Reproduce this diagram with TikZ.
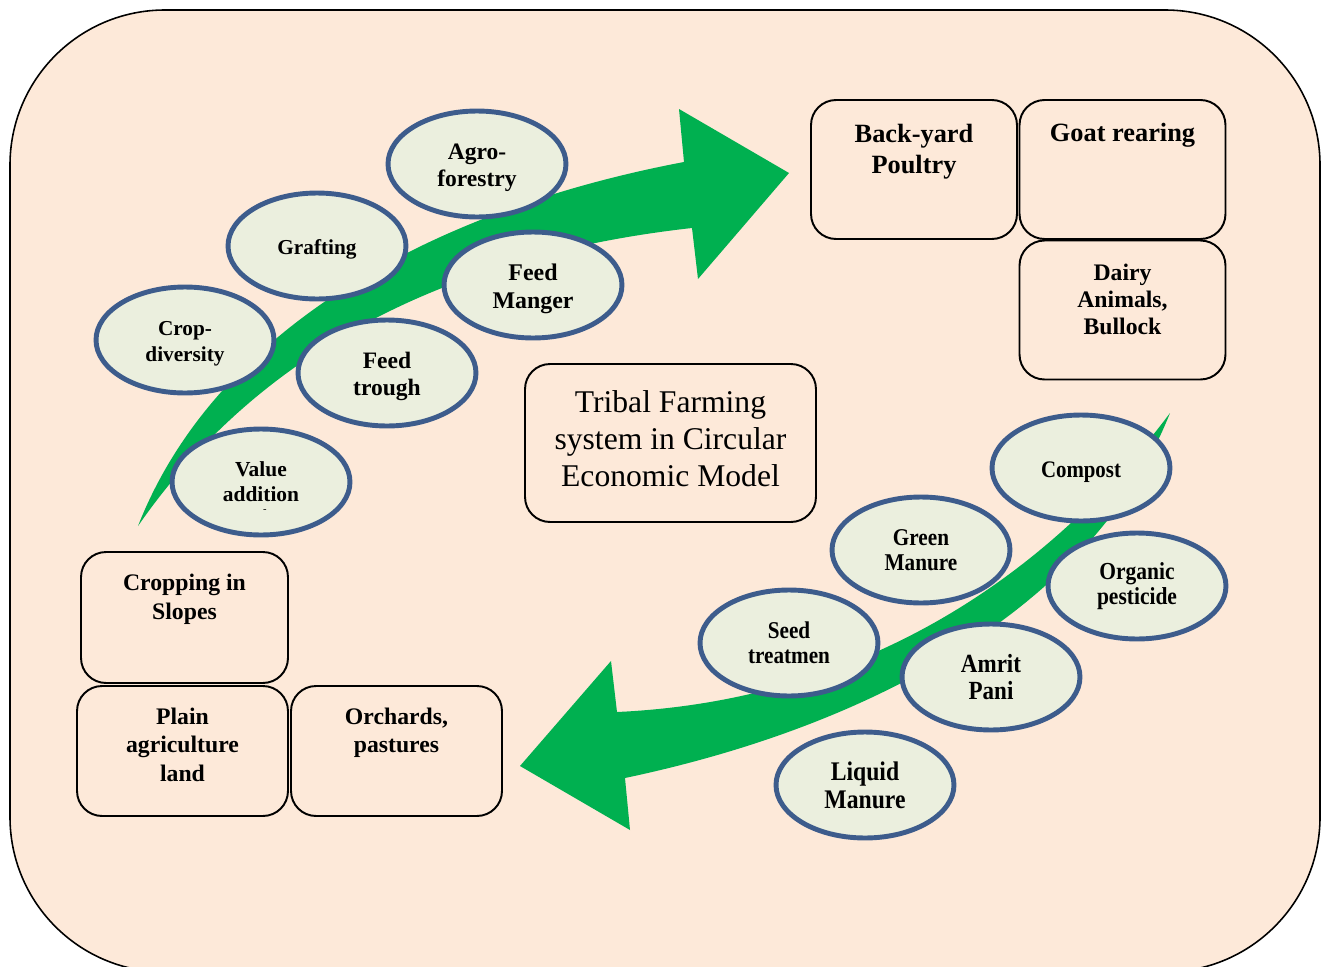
\documentclass[tikz,border=0pt]{standalone}
\usepackage{fontspec}
\setmainfont{Liberation Serif}
\newfontfamily\slimserif[FakeStretch=0.88]{Liberation Serif}
\usetikzlibrary{shapes.geometric}

\definecolor{pagefill}{HTML}{FDE9D9}
\definecolor{bubblefill}{HTML}{EBEFDE}
\definecolor{bubbleedge}{HTML}{3D5C8C}
\definecolor{arrowgreen}{HTML}{00B050}

\newcommand{\txtsize}[2]{\fontsize{#1}{#2}\selectfont}
\newcommand{\lift}{\rule{0pt}{1em}}
% text set at the top of a box: width, height, first baseline, text
\newcommand{\toptext}[4]{\parbox[c][#2][t]{#1}{\centering\rule{0pt}{#3}#4}}

\begin{document}
\begin{tikzpicture}[x=0.02cm, y=-0.02cm,
    bubble/.style={ellipse, draw=bubbleedge, line width=2.8pt, fill=bubblefill,
        minimum width=3.56cm, minimum height=2.12cm, inner sep=0pt, align=center},
    tile/.style={draw, line width=1.1pt, fill=pagefill, rounded corners=0.5cm,
        inner sep=0pt, font=\bfseries}]
    \clip (0,0) rectangle (1323,967);

    % Draw the frame
    \fill[white] (0,0) rectangle (1323,967);
    \draw[line width=0.9pt, fill=pagefill, rounded corners=3.1cm] (10,10) rectangle (1320,972);

    % Animal boxes
    \node[tile] (poultry) at (914,169.5) {\toptext{4.12cm}{2.78cm}{0.84cm}{\txtsize{15}{18}Back-yard\\Poultry}};
    \node[tile] (goat) at (1122.5,169.5) {\toptext{4.12cm}{2.78cm}{0.82cm}{\txtsize{15}{18}Goat rearing}};
    \node[tile] (dairy) at (1122.5,310) {\toptext{4.12cm}{2.78cm}{0.8cm}{\txtsize{13.5}{15.4}Dairy\\Animals,\\Bullock}};

    % Land boxes
    \node[tile] (slopes) at (184.5,617.5) {\toptext{4.14cm}{2.62cm}{0.77cm}{\txtsize{13.5}{16.4}Cropping in\\Slopes}};
    \node[tile] (plain) at (182.5,751) {\toptext{4.22cm}{2.6cm}{0.77cm}{\txtsize{13.5}{16.2}Plain\\agriculture\\land}};
    \node[tile] (orchards) at (396.5,751) {\toptext{4.22cm}{2.6cm}{0.77cm}{\txtsize{13.5}{16.2}Orchards,\\pastures}};

    % Title box
    \node[draw, line width=1.1pt, rounded corners=0.5cm, minimum width=5.82cm, minimum height=3.16cm,
        align=center, font=\txtsize{18}{21}] (title) at (670.5,443)
        {Tribal Farming\\system in Circular\\Economic Model\rule[-5pt]{0pt}{0pt}};

    % Green arrows
    \fill[arrowgreen] (138,526) .. controls (215,330) and (430,210) .. (684,162)
        -- (679,109) -- (789,173) -- (698,279) -- (692,228)
        .. controls (450,255) and (260,350) .. (138,526) -- cycle;
    \fill[arrowgreen] (1170,413) .. controls (1060,560) and (880,700) .. (617,712)
        -- (611,661) -- (520,766) -- (630,830) -- (625,778)
        .. controls (900,720) and (1100,590) .. (1170,413) -- cycle;

    % Crop side bubbles
    \node[bubble, font=\bfseries\txtsize{13.4}{15.4}] (agro) at (477,164) {\lift Agro-\\forestry};
    \node[bubble, font=\bfseries\txtsize{12.1}{14.8}] (graft) at (317,246) {\lift Grafting};
    \node[bubble, font=\bfseries\txtsize{12.1}{14.8}] (cropdiv) at (185,340) {\lift Crop-\\diversity};
    \node[bubble, font=\bfseries\txtsize{13.4}{15.6}] (trough) at (387,373) {\lift Feed\\trough};
    \node[bubble, font=\bfseries\txtsize{13.6}{15.8}] (manger) at (533,285) {\lift Feed\\Manger};
    \node[bubble, font=\bfseries\txtsize{12.2}{14.2}] (value) at (261,482) {Value\\addition};
    \node[font=\txtsize{6}{6}, inner sep=0pt] (valuedash) at (265,511) {-};

    % Manure side bubbles
    \node[bubble, font=\slimserif\bfseries\txtsize{13.5}{14.2}] (compost) at (1081,468) {\lift Compost};
    \node[bubble, font=\slimserif\bfseries\txtsize{13.7}{14.2}] (greenman) at (921,550) {Green\\Manure};
    \node[bubble, font=\slimserif\bfseries\txtsize{13.9}{14.2}] (organic) at (1137,586) {Organic\\pesticide};
    \node[bubble, font=\slimserif\bfseries\txtsize{13.7}{14.2}] (seed) at (789,643) {Seed\\treatmen};
    \node[bubble, font=\slimserif\bfseries\txtsize{14.9}{15.4}] (amrit) at (991,677) {Amrit\\Pani};
    \node[bubble, font=\slimserif\bfseries\txtsize{15.3}{16}] (liquid) at (865,785) {Liquid\\Manure};
\end{tikzpicture}
\end{document}
